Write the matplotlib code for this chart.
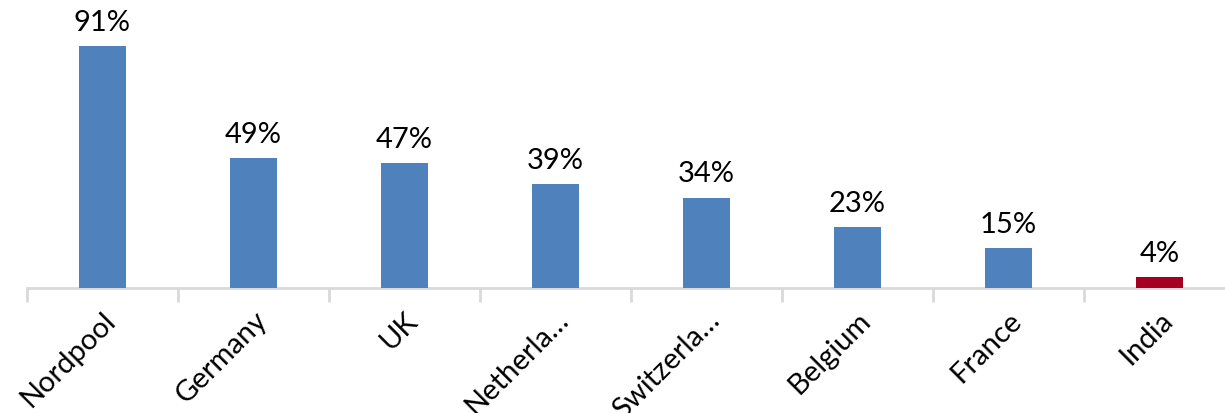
import matplotlib.pyplot as plt
import numpy as np

countries = ["Nordpool", "Germany", "UK", "Netherla…", "Switzerla…", "Belgium", "France", "India"]
shares = [91, 49, 47, 39, 34, 23, 15, 4]
bar_colors = ["#4F81BD"] * 7 + ["#A50021"]

plt.rcParams["font.family"] = ["Lato", "DejaVu Sans"]

fig = plt.figure(figsize=(12.25, 4.14), dpi=100)
# axes spans past the right edge, as in the reference
ax = fig.add_axes([27 / 1225, 125 / 414, 1208 / 1225, 266 / 414])

x = np.arange(len(countries))
bars = ax.bar(x, shares, width=0.31, color=bar_colors, zorder=3)

for bar, val in zip(bars, shares):
    ax.annotate(f"{val}%", (bar.get_x() + bar.get_width() / 2, bar.get_height()),
                xytext=(0, 8), textcoords="offset points",
                ha="center", va="bottom", fontsize=21, color="black")

ax.set_xlim(-0.5, len(countries) - 0.5)
ax.set_ylim(0, 100)

for side in ["top", "right", "left"]:
    ax.spines[side].set_visible(False)
ax.spines["bottom"].set_color("#D9D9D9")
ax.spines["bottom"].set_linewidth(2)

ax.set_yticks([])
ax.set_xticks(np.arange(len(countries) + 1) - 0.5, minor=True)
ax.tick_params(axis="x", which="minor", length=10, width=2, color="#D9D9D9")
ax.set_xticks(x)
ax.set_xticklabels(countries, rotation=45, ha="right", va="top",
                   rotation_mode="anchor", fontsize=21)
ax.tick_params(axis="x", which="major", length=0, pad=13)

fig.savefig("out.png", dpi=100)
